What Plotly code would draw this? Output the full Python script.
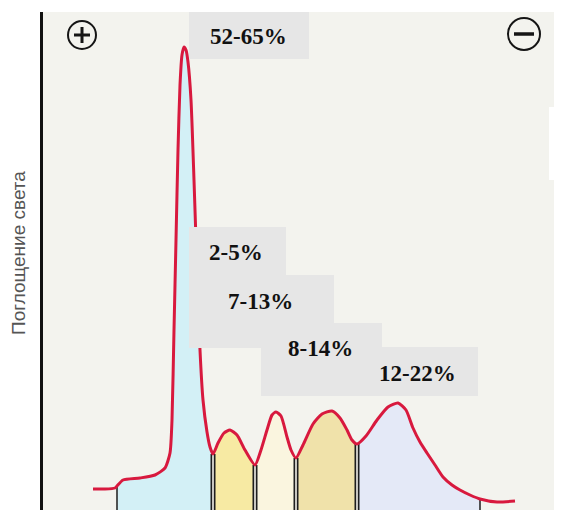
import plotly.graph_objects as go

# densitogram of serum proteins (x = migration, px; y = light absorption above baseline)
curve_x = [93, 105, 115, 117, 123, 140, 155, 165, 170, 172, 174, 176, 178, 180, 182,
           184, 186, 188, 191, 194, 197, 200, 203, 207, 210, 213, 218, 224, 230, 237,
           245, 255, 261, 267, 272, 276, 281, 287, 291, 296, 303, 313, 322, 332, 340,
           347, 352, 357, 366, 377, 388, 398, 406, 413, 420, 427, 435, 443, 452, 460,
           470, 480, 497, 515]
curve_y = [21, 21, 22, 24, 30, 32, 35, 42, 57, 90, 180, 270, 360, 425, 455,
           463, 460, 448, 410, 330, 240, 160, 110, 78, 63, 56, 67, 77, 80, 75,
           60, 45, 60, 80, 95, 98, 94, 73, 60, 52, 65, 86, 96, 99, 92,
           80, 70, 66, 74, 90, 103, 107, 100, 82, 68, 57, 45, 33, 25, 20,
           15, 11, 8, 9]

# fraction borders and colours
bounds = [117, 213, 255, 296, 357, 480]
fraction_names = ["albumin", "alpha1", "alpha2", "beta", "gamma"]
fraction_colors = ["#d3f0f6", "#f7eaa3", "#faf5df", "#f0e2aa", "#e4e9f7"]

labels = ["52-65%", "2-5%", "7-13%", "8-14%", "12-22%"]
label_pos = [(248, 474), (236, 258), (260, 209), (320, 162), (417, 137)]
# grey label boxes: x0, x1, y0, y1
label_boxes = [(189, 309, 451, 499), (189, 286, 162, 283), (189, 334, 162, 235),
               (261, 382, 114, 187), (261, 478, 114, 163)]

# the page body has an 8px margin, so the figure is made 8px smaller
PAGE_OFF = 8

fig = go.Figure()

for i, name in enumerate(fraction_names):
    lo, hi = bounds[i], bounds[i + 1]
    xs = [x for x in curve_x if lo <= x <= hi]
    ys = [y for x, y in zip(curve_x, curve_y) if lo <= x <= hi]
    fig.add_trace(go.Scatter(
        x=xs, y=ys, name=name, mode="lines", fill="tozeroy",
        fillcolor=fraction_colors[i],
        line=dict(width=0, shape="spline", smoothing=0.6),
        hoverinfo="skip", showlegend=False))

# borders between fractions
def border_y(bx):
    return curve_y[curve_x.index(bx)]

inner = bounds[1:-1]
ox, oy = [], []
for b in inner:
    ox += [b, b, None]
    oy += [border_y(b), 0, None]
fig.add_trace(go.Scatter(x=ox, y=oy, mode="lines", line=dict(color="#1e1e1e", width=5),
                         hoverinfo="skip", showlegend=False))
fig.add_trace(go.Scatter(x=ox, y=oy, mode="lines", line=dict(color="#f4f2ea", width=1.6),
                         hoverinfo="skip", showlegend=False))
ex, ey = [], []
for b in (bounds[0], bounds[-1]):
    ex += [b, b, None]
    ey += [border_y(b), 0, None]
fig.add_trace(go.Scatter(x=ex, y=ey, mode="lines", line=dict(color="#2a2a2a", width=1.6),
                         hoverinfo="skip", showlegend=False))

fig.add_trace(go.Scatter(
    x=curve_x, y=curve_y, mode="lines",
    line=dict(color="#d8193e", width=3, shape="spline", smoothing=0.6),
    hoverinfo="skip", showlegend=False))

shapes = []
for x0, x1, y0, y1 in label_boxes:
    shapes.append(dict(type="rect", xref="x", yref="y", x0=x0, x1=x1, y0=y0, y1=y1,
                       fillcolor="#e6e6e6", line=dict(width=0), layer="above"))
# scan artefact on the right edge
shapes.append(dict(type="rect", xref="x", yref="y", x0=549, x1=562, y0=330, y1=403,
                   fillcolor="#ffffff", line=dict(width=0), layer="above"))

# electrode signs (+) and (-)
sign_line = dict(color="#151515", width=2)
shapes.append(dict(type="circle", xref="x", yref="y", x0=68, x1=96, y0=461, y1=489,
                   line=sign_line))
shapes.append(dict(type="line", xref="x", yref="y", x0=74, x1=90, y0=475, y1=475,
                   line=dict(color="#151515", width=3)))
shapes.append(dict(type="line", xref="x", yref="y", x0=82, x1=82, y0=467, y1=483,
                   line=dict(color="#151515", width=3)))
shapes.append(dict(type="circle", xref="x", yref="y", x0=508, x1=540, y0=460, y1=492,
                   line=sign_line))
shapes.append(dict(type="line", xref="x", yref="y", x0=514, x1=534, y0=476, y1=476,
                   line=dict(color="#151515", width=3.5)))

annotations = []
for text, (lx, ly) in zip(labels, label_pos):
    annotations.append(dict(x=lx, y=ly, xref="x", yref="y", text="<b>%s</b>" % text,
                            showarrow=False,
                            font=dict(family="Liberation Serif", size=23, color="#111111")))
annotations.append(dict(x=(18 - 43) / 519, y=257, xref="paper", yref="y",
                        text="Поглощение света", showarrow=False, textangle=-90,
                        xanchor="center", yanchor="middle",
                        font=dict(family="Liberation Sans", size=19, color="#555555")))

fig.update_layout(
    width=562 - PAGE_OFF, height=510 - PAGE_OFF,
    margin=dict(l=43 - PAGE_OFF, r=0, t=12 - PAGE_OFF, b=0),
    paper_bgcolor="#ffffff",
    plot_bgcolor="#f3f3ee",
    shapes=shapes,
    annotations=annotations,
    xaxis=dict(range=[43, 562], showgrid=False, zeroline=False, showticklabels=False,
               ticks="", showline=False, fixedrange=True),
    yaxis=dict(range=[0, 498], showgrid=False, zeroline=False, showticklabels=False,
               ticks="", showline=True, linecolor="#111111", linewidth=3, fixedrange=True),
)

fig.write_html("out.html")
